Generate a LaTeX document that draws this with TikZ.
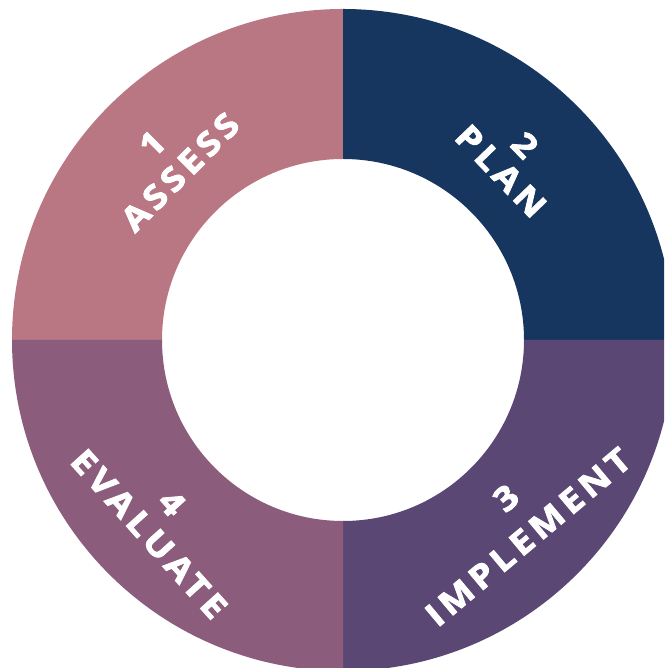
\documentclass[tikz,border=0pt]{standalone}
\usepackage{fontspec}
\setmainfont{Open Sans}
\newfontfamily\lblfont{Open Sans}[LetterSpace=14, FakeStretch=1.12, BoldFeatures={FakeBold=2.6}]
\definecolor{assesscol}{HTML}{B97683}
\definecolor{plancol}{HTML}{17365F}
\definecolor{implcol}{HTML}{5A4774}
\definecolor{evalcol}{HTML}{8C5C7D}
\tikzset{
  lbl/.style={text=white, inner sep=0pt, font=\lblfont\bfseries\fontsize{33}{40}\selectfont},
}
\newcommand{\ringsector}[3]{%
  \fill[#1] ([shift={(#2:331)}]c) arc[start angle=#2, end angle=#3, radius=331]
    -- ([shift={(#3:181)}]c) arc[start angle=#3, end angle=#2, radius=181] -- cycle;}
\begin{document}
\begin{tikzpicture}[x=1pt,y=1pt]
\useasboundingbox (0,0) rectangle (664,668);
\clip (0,0) rectangle (664,668);
\fill[white] (0,0) rectangle (664,668);
\coordinate (c) at (343,328);
\ringsector{assesscol}{90}{180}
\ringsector{plancol}{0}{90}
\ringsector{implcol}{-90}{0}
\ringsector{evalcol}{180}{270}
% labels
\node[lbl, rotate=45] (assess) at (180,496) {ASSESS};
\node[lbl, rotate=45] (n1) at (152,524) {1};
\node[lbl, rotate=-46] (plan) at (501,497) {PLAN};
\node[lbl, rotate=-46] (n2) at (525,523) {2};
\node[lbl, rotate=40] (impl) at (528,131) {IMPLEMENT};
\node[lbl, rotate=40] (n3) at (506,170) {3};
\node[lbl, rotate=-48] (eval) at (149,134) {EVALUATE};
\node[lbl, rotate=-48] (n4) at (172,165) {4};
\end{tikzpicture}
\end{document}
